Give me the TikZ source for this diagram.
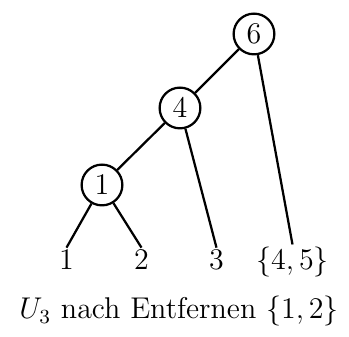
\documentclass[tikz,border=0pt]{standalone}
\usepackage{amsmath}
\usepackage{tikz}

\tikzset{
    knoten/.style={draw,circle,line width=0.9pt,minimum size=16.3pt,inner sep=0pt},
    blatt/.style={inner sep=1pt,anchor=base},
    kante/.style={line width=0.9pt}
}

\begin{document}
\begin{tikzpicture}[x=0.4pt,y=-0.4pt,font=\fontsize{12}{14}\selectfont]
    \useasboundingbox (0,0) rectangle (349,337);

    % innere Knoten
    \node[knoten] (k6) at (254,34) {$6$};
    \node[knoten] (k4) at (180,108) {$4$};
    \node[knoten] (k1) at (102,185) {$1$};

    % Blaetter
    \node[blatt] (b1) at (66.5,270) {$1$};
    \node[blatt] (b2) at (141.5,270) {$2$};
    \node[blatt] (b3) at (216.5,270) {$3$};
    \node[blatt] (b45) at (292.5,270) {$\{4,5\}$};

    % Kanten
    \draw[kante] (k6) -- (k4);
    \draw[kante] (k6) -- (b45.north);
    \draw[kante] (k4) -- (k1);
    \draw[kante] (k4) -- (b3.north);
    \draw[kante] (k1) -- (b1.north);
    \draw[kante] (k1) -- (b2.north);

    % Beschriftung
    \node[anchor=base] (titel) at (179,319) {$U_3$ nach Entfernen $\{1,2\}$};
\end{tikzpicture}
\end{document}
